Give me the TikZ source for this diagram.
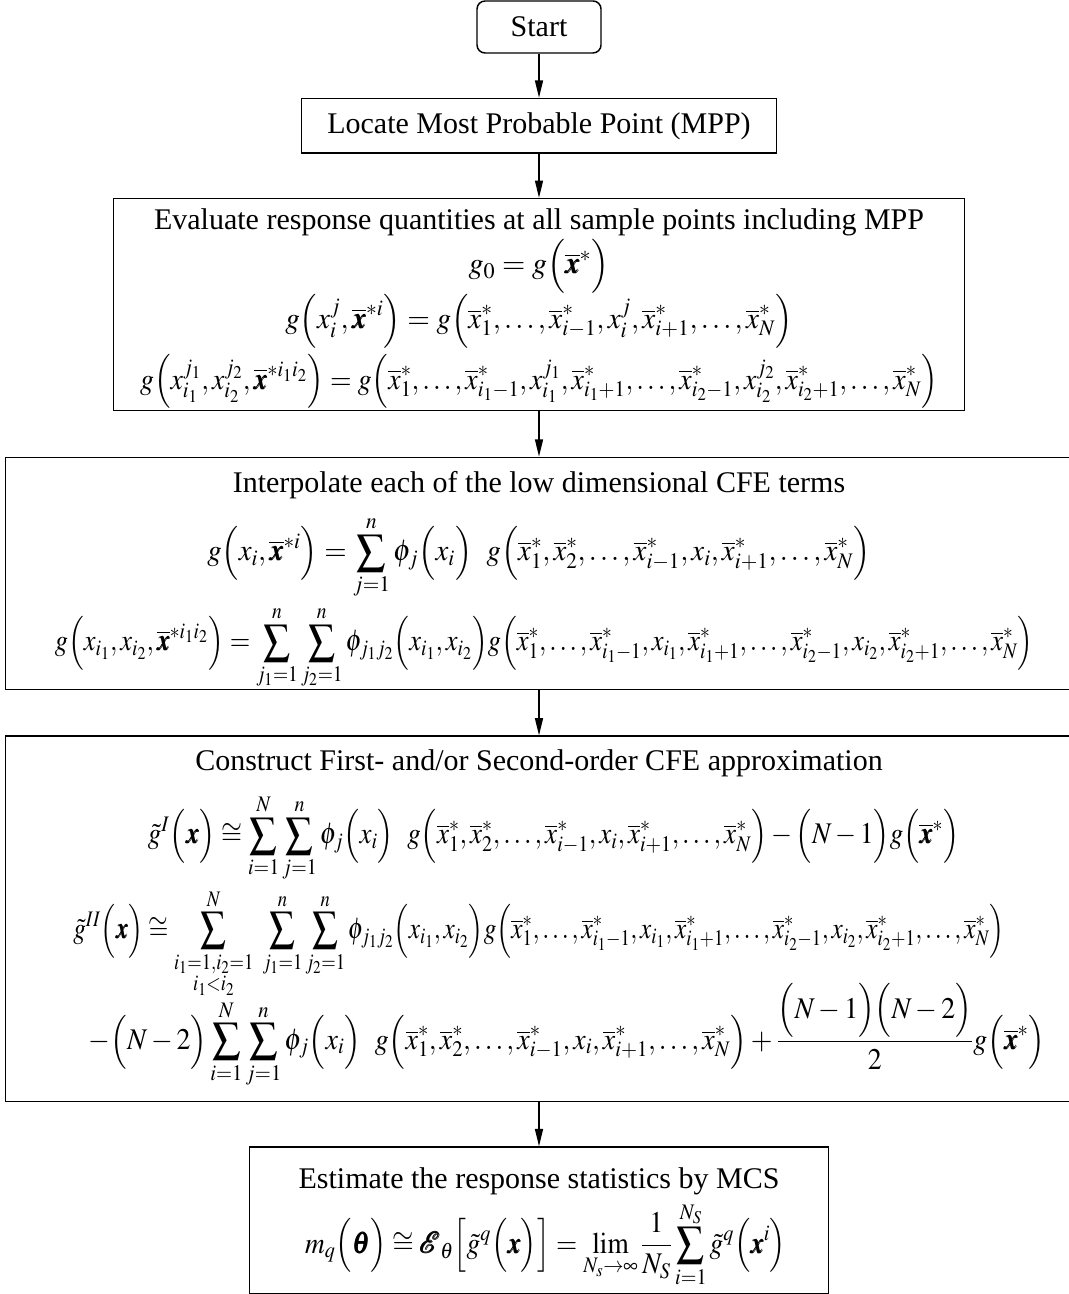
\documentclass[tikz,border=0pt]{standalone}
\usepackage{amsmath}
\usepackage{mathptmx}
\usepackage{bm}
\usepackage{graphicx}
\usepackage{fontspec}
\setmainfont{Liberation Serif}
\usetikzlibrary{arrows.meta,positioning}

\newcommand{\xs}[1]{\overline{x}^{*}_{#1}}
\newcommand{\paren}[1]{\Bigl(#1\Bigr)}
\newcommand{\eqline}[2]{\scalebox{#1}[1]{$\displaystyle #2$}}

\begin{document}
\begin{tikzpicture}[
    x=0.75pt, y=-0.75pt,
    node distance=33pt,
    every node/.style={font=\fontsize{22.5}{27}\selectfont},
    box/.style={draw, line width=1.1pt, align=center, inner sep=0pt},
    startbox/.style={box, rounded corners=6pt, minimum width=93pt, minimum height=39pt},
    flow/.style={-{Triangle[length=13pt, width=6pt]}, line width=1.1pt}
]
\useasboundingbox (0,0) rectangle (1068,1294);
\node[startbox] (start) at (539,27) {Start};
\node[box, minimum width=356pt, minimum height=41pt, below=of start] (locate) {Locate Most Probable Point (MPP)};
\node[box, minimum width=638pt, minimum height=159pt, below=of locate] (evaluate) {\rule{0pt}{21.5pt}Evaluate response quantities at all sample points including MPP\\[1.5pt]
$\displaystyle g_0=g\paren{\overline{\bm x}^{*}}$\\[-0.5pt]
\eqline{0.97}{g\paren{x_i^j,\overline{\bm x}^{*i}}=g\paren{\xs{1},\ldots,\xs{i-1},x_i^j,\xs{i+1},\ldots,\xs{N}}}\\[4pt]
\eqline{0.925}{g\paren{x_{i_1}^{j_1},x_{i_2}^{j_2},\overline{\bm x}^{*i_1i_2}}=g\paren{\xs{1},\ldots,\xs{i_1-1},x_{i_1}^{j_1},\xs{i_1+1},\ldots,\xs{i_2-1},x_{i_2}^{j_2},\xs{i_2+1},\ldots,\xs{N}}}};
\node[box, minimum width=800pt, minimum height=174pt, below=34pt of evaluate] (interp) {\rule{0pt}{26pt}Interpolate each of the low dimensional CFE terms\\[12pt]
\eqline{0.96}{g\paren{x_i,\overline{\bm x}^{*i}}=\sum_{j=1}^{n}\phi_j\paren{x_i}\ \ g\paren{\xs{1},\xs{2},\ldots,\xs{i-1},x_i,\xs{i+1},\ldots,\xs{N}}}\\[4pt]
\hspace*{8pt}\eqline{0.88}{g\paren{x_{i_1},x_{i_2},\overline{\bm x}^{*i_1i_2}}=\sum_{j_1=1}^{n}\sum_{j_2=1}^{n}\phi_{j_1j_2}\paren{x_{i_1},x_{i_2}}g\paren{\xs{1},\ldots,\xs{i_1-1},x_{i_1},\xs{i_1+1},\ldots,\xs{i_2-1},x_{i_2},\xs{i_2+1},\ldots,\xs{N}}}};
\node[box, minimum width=800pt, minimum height=274pt, below=34pt of interp] (construct) {Construct First- and/or Second-order CFE approximation\\[12pt]
\hspace*{22pt}\eqline{0.9}{\tilde{g}^{I}\paren{\bm x}\cong\sum_{i=1}^{N}\sum_{j=1}^{n}\phi_j\paren{x_i}\ \ g\paren{\xs{1},\xs{2},\ldots,\xs{i-1},x_i,\xs{i+1},\ldots,\xs{N}}-\paren{N-1}g\paren{\overline{\bm x}^{*}}}\\[4pt]
\eqline{0.84}{\tilde{g}^{II}\paren{\bm x}\cong\sum_{\substack{i_1=1,i_2=1\\ i_1<i_2}}^{N}\ \sum_{j_1=1}^{n}\sum_{j_2=1}^{n}\phi_{j_1j_2}\paren{x_{i_1},x_{i_2}}g\paren{\xs{1},\ldots,\xs{i_1-1},x_{i_1},\xs{i_1+1},\ldots,\xs{i_2-1},x_{i_2},\xs{i_2+1},\ldots,\xs{N}}}\\[-12pt]
\hspace*{42pt}\eqline{0.93}{-\paren{N-2}\sum_{i=1}^{N}\sum_{j=1}^{n}\phi_j\paren{x_i}\ \ g\paren{\xs{1},\xs{2},\ldots,\xs{i-1},x_i,\xs{i+1},\ldots,\xs{N}}+\frac{\paren{N-1}\paren{N-2}}{2}g\paren{\overline{\bm x}^{*}}}};
\node[box, minimum width=434pt, minimum height=110pt, below=of construct] (estimate) {\rule{0pt}{26.5pt}Estimate the response statistics by MCS\\[4pt]
\hspace*{10pt}\eqline{0.91}{m_q\paren{\bm\theta}\cong\pmb{\mathcal{E}}_{\theta}\Bigl[\tilde{g}^{q}\paren{\bm x}\Bigr]=\lim_{N_s\to\infty}\frac{1}{N_S}\sum_{i=1}^{N_S}\tilde{g}^{q}\paren{\bm x^{i}}}};
\draw[flow] (start) -- (locate);
\draw[flow] (locate) -- (evaluate);
\draw[flow] (evaluate) -- (interp);
\draw[flow] (interp) -- (construct);
\draw[flow] (construct) -- (estimate);
\end{tikzpicture}
\end{document}
